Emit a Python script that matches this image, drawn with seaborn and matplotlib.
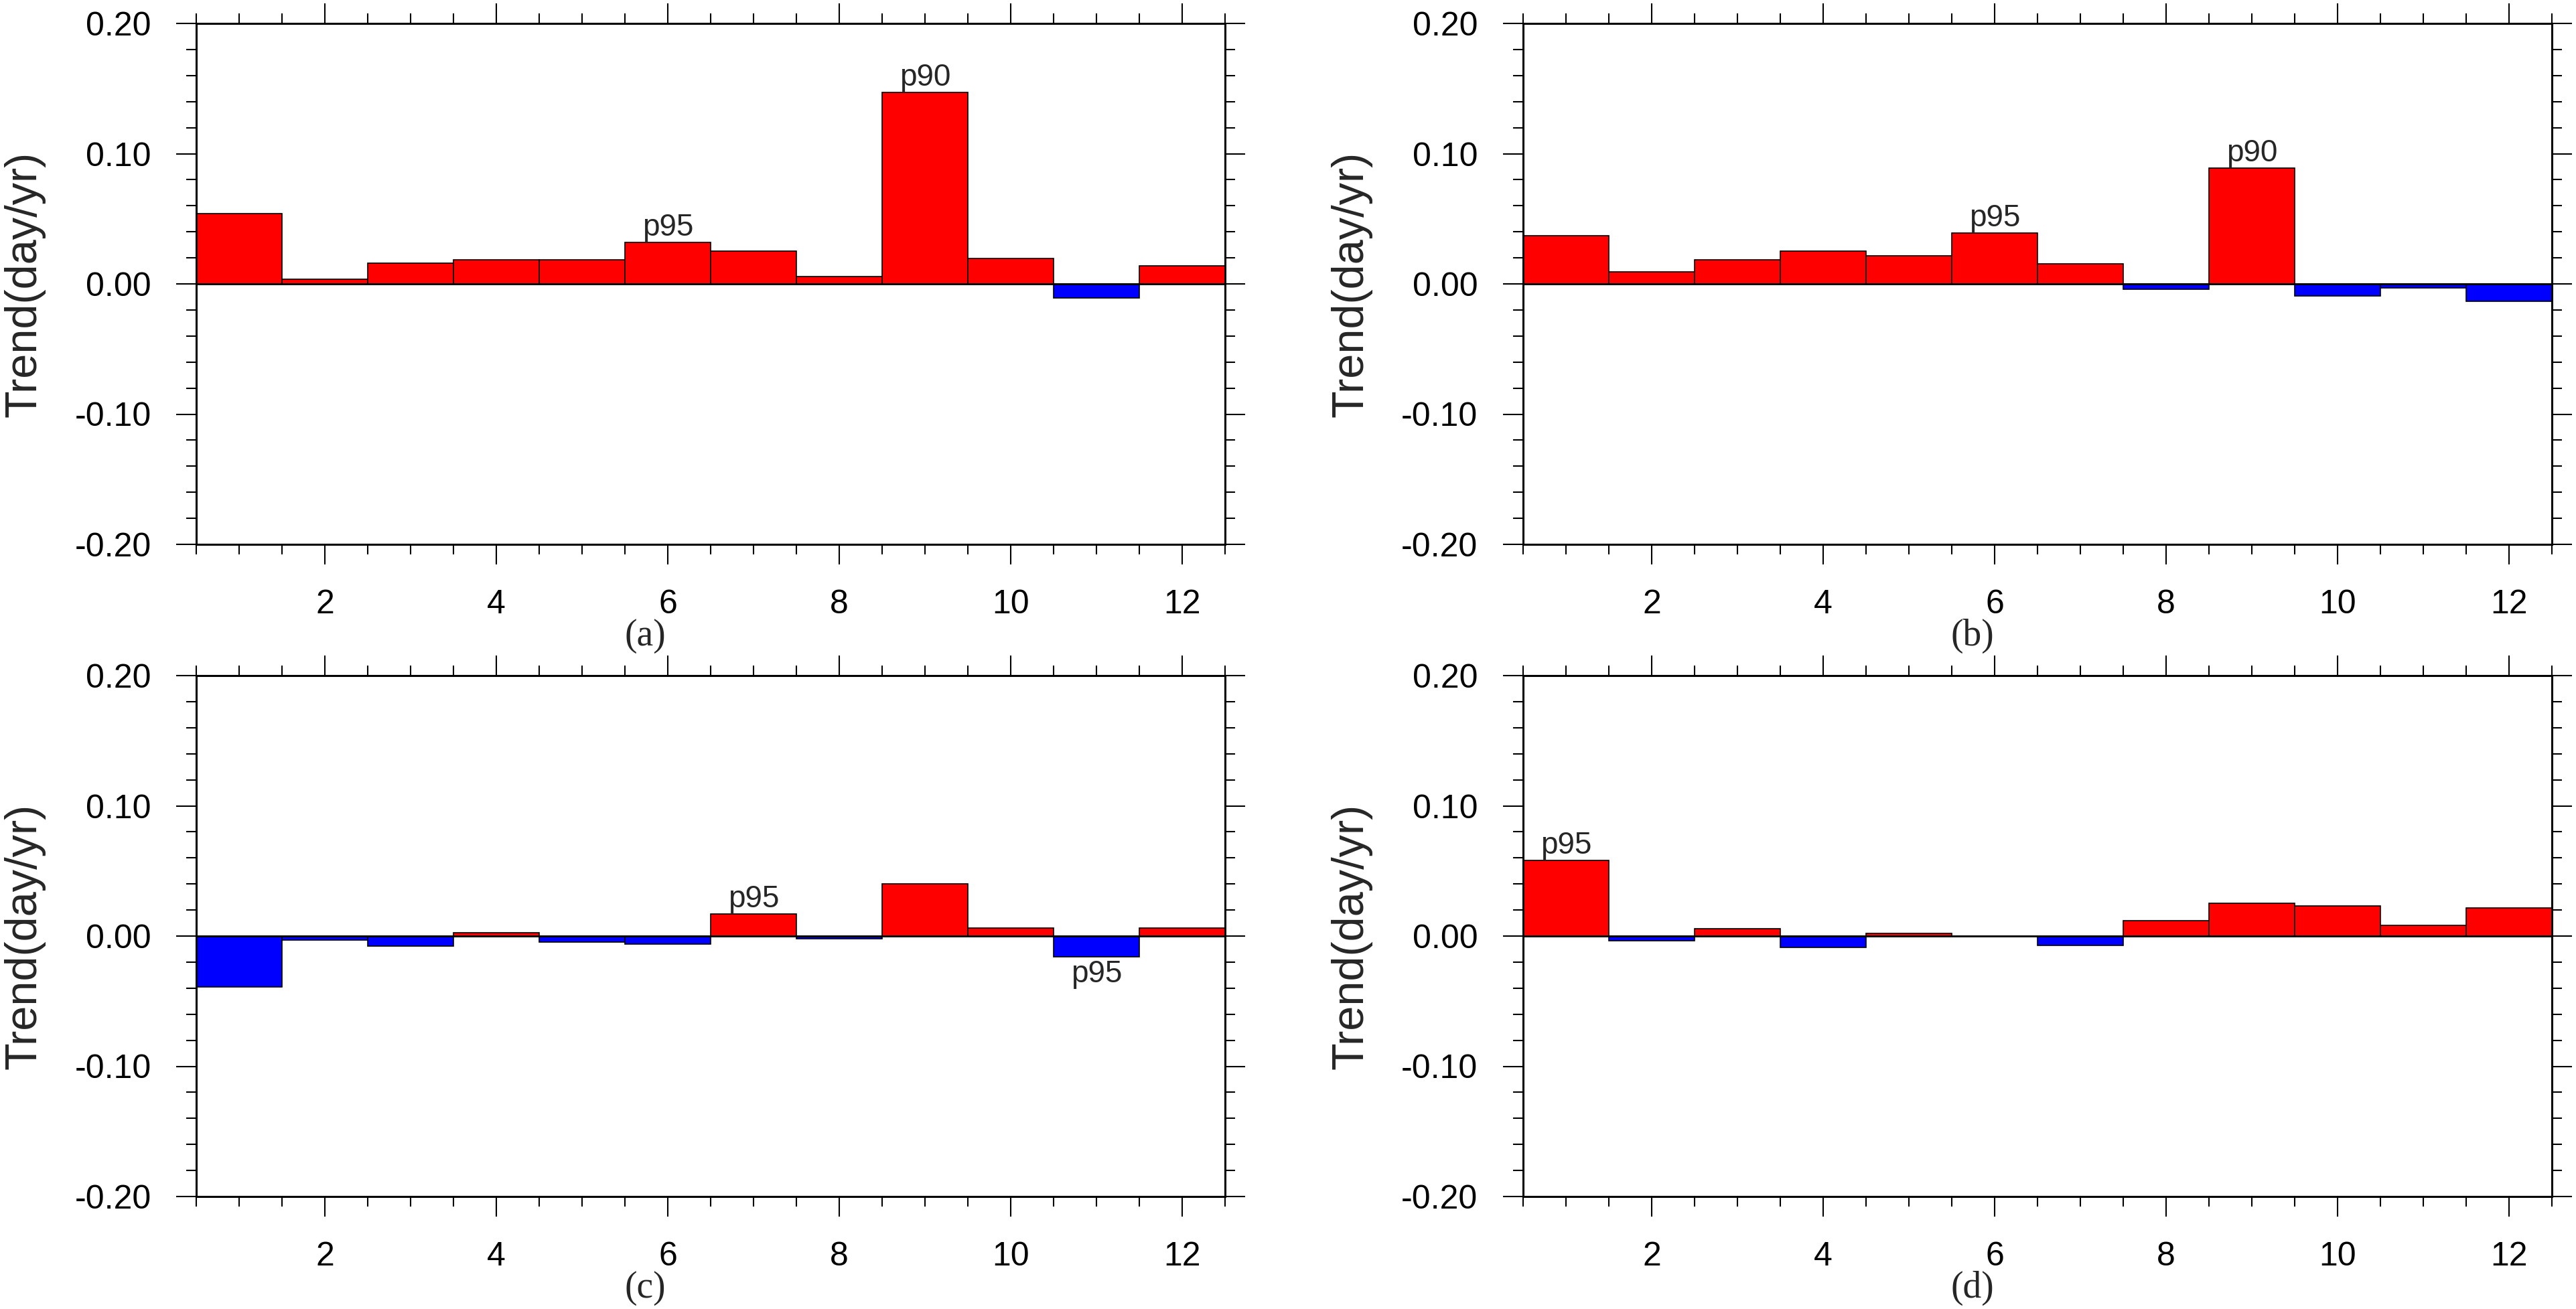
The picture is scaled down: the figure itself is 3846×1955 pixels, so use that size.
import numpy as np
import pandas as pd
import matplotlib
matplotlib.use("Agg")
import matplotlib.pyplot as plt
from matplotlib.ticker import MultipleLocator, FormatStrFormatter
import seaborn as sns

# monthly trend values (day/yr)
months = list(range(1, 13))
trend_a = [0.054, 0.0035, 0.016, 0.0187, 0.0183, 0.0318, 0.0254, 0.0055, 0.147, 0.0196, -0.0106, 0.0138]
trend_b = [0.037, 0.0093, 0.0187, 0.025, 0.0215, 0.039, 0.0154, -0.0039, 0.089, -0.009, -0.003, -0.0135]
trend_c = [-0.039, -0.0032, -0.0077, 0.0026, -0.0045, -0.0064, 0.017, -0.0019, 0.0403, 0.0064, -0.016, 0.0064]
trend_d = [0.058, -0.0035, 0.0057, -0.0087, 0.002, 0.0, -0.0074, 0.0118, 0.0252, 0.023, 0.0083, 0.0214]

# significance marks (month -> label)
sig_a = {6: "p95", 9: "p90"}
sig_b = {6: "p95", 9: "p90"}
sig_c = {7: "p95", 11: "p95"}
sig_d = {1: "p95"}

panel_names = ["(a)", "(b)", "(c)", "(d)"]
ytick_vals = [-0.2, -0.1, 0.0, 0.1, 0.2]
xtick_vals = [2, 4, 6, 8, 10, 12]

sns.set_theme(style="ticks")
plt.rcParams["font.family"] = ["Liberation Sans", "DejaVu Sans"]

W, H = 3846, 1955
fig = plt.figure(figsize=(W / 100, H / 100), dpi=100)

# axes boxes in pixels (left, top)
boxes = [(293, 35), (2274, 35), (293, 1009), (2274, 1009)]
ax_w, ax_h = 1536, 778

all_trends = [trend_a, trend_b, trend_c, trend_d]
all_sigs = [sig_a, sig_b, sig_c, sig_d]

for (left, top), vals, sig, name in zip(boxes, all_trends, all_sigs, panel_names):
    ax = fig.add_axes([left / W, 1 - (top + ax_h) / H, ax_w / W, ax_h / H])

    df = pd.DataFrame({"month": months, "trend": vals})
    df["sign"] = np.where(df["trend"] < 0, "neg", "pos")

    sns.barplot(data=df, x="month", y="trend", hue="sign",
                palette={"pos": "#ff0000", "neg": "#0000ff"}, saturation=1,
                native_scale=True, width=1.0, dodge=False, legend=False,
                edgecolor="black", linewidth=1.2, errorbar=None, ax=ax)

    # zero reference line
    ax.axhline(0, color="black", lw=2.0, zorder=3)

    ax.set_xlim(0.5, 12.5)
    ax.set_ylim(-0.2, 0.2)
    ax.set_xticks(xtick_vals)
    ax.set_xticklabels([str(v) for v in xtick_vals])
    ax.xaxis.set_minor_locator(MultipleLocator(0.5))
    ax.set_yticks(ytick_vals)
    ax.yaxis.set_major_formatter(FormatStrFormatter("%.2f"))
    ax.yaxis.set_minor_locator(MultipleLocator(0.02))

    ax.tick_params(which="both", direction="out", top=True, right=True,
                   labeltop=False, labelright=False, width=1.5, colors="black")
    ax.tick_params(which="major", length=21.6, pad=27, labelsize=36)
    ax.tick_params(which="minor", length=10.8)
    for sp in ax.spines.values():
        sp.set_linewidth(2.2)
        sp.set_color("black")

    ax.set_xlabel("")
    ax.set_ylabel("Trend(day/yr)", fontsize=48)
    ax.yaxis.set_label_coords(-0.147, 0.5)

    # significance labels over/under bars
    for m, lab in sig.items():
        v = vals[m - 1]
        if v >= 0:
            ax.text(m, v, lab, ha="center", va="bottom", fontsize=33)
        else:
            ax.text(m, v - 0.002, lab, ha="center", va="top", fontsize=33)

    ax.text(0.4365, -0.176, name, transform=ax.transAxes, ha="center", va="center",
            fontsize=40, family=["Liberation Serif", "DejaVu Serif"])

fig.savefig("out.png", dpi=100)
